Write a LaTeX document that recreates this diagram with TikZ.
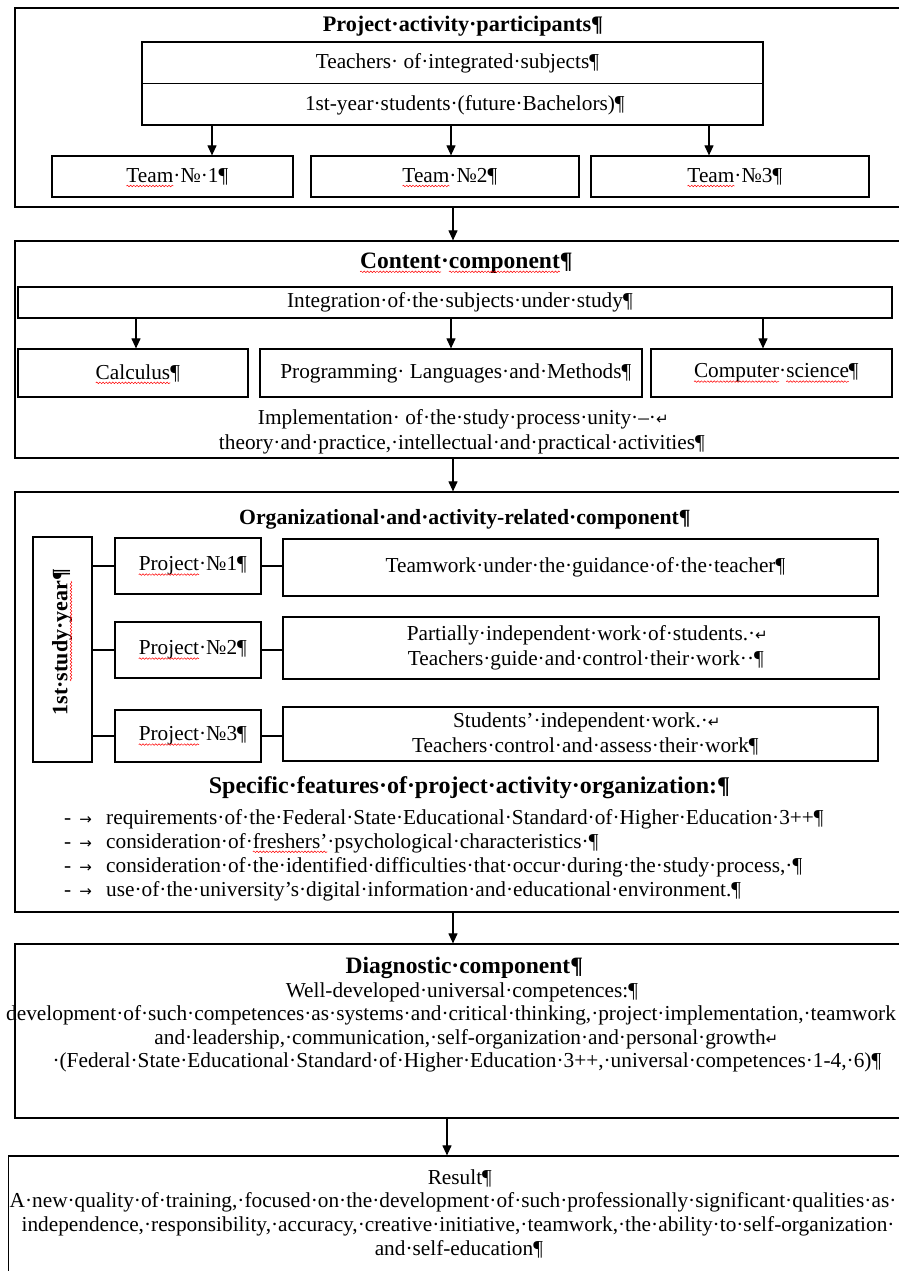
\documentclass[tikz,border=0pt]{standalone}
\usepackage{fontspec}
\setmainfont{Liberation Serif}
\newfontfamily\symf{DejaVu Sans}
\usetikzlibrary{arrows.meta,decorations.pathmorphing}
\newcommand\bodyf{\fontsize{21.3}{25}\selectfont}
\newcommand\pil{\rlap{¶}}
\newsavebox\splbox
\newlength\splw
\newcommand\spl[1]{\sbox\splbox{#1}\setlength\splw{\wd\splbox}\rlap{\usebox\splbox}\tikz[overlay,baseline=0pt]\draw[red,line width=0.5pt,decorate,decoration={snake,amplitude=0.8pt,segment length=3.2pt}] (0pt,-3.8pt) -- (\splw,-3.8pt);\hspace*{\splw}}
\newcommand\ret{\rlap{{\symf\fontsize{15}{15}\selectfont ↵}}}
\newcommand\tabarr{{\symf\fontsize{15}{15}\selectfont →}}
\begin{document}
\begin{tikzpicture}[x=1pt,y=-1pt,
  every node/.style={inner sep=0pt},
  frame/.style={draw, line width=1.2pt, minimum width=885.5pt},
  box/.style={draw, line width=1.2pt, align=center, font=\bodyf},
  t/.style={anchor=base, font=\bodyf},
  hd/.style={anchor=base},
  arr/.style={line width=1.1pt, -{Triangle[length=10pt,width=9pt]}},
  ln/.style={line width=1.1pt}]
\useasboundingbox (0,0) rectangle (899,1271);
\fill[white] (0,0) rectangle (899,1271);

% ---------- Box 1 ----------
\node[frame, minimum height=199pt] (b1) at (457.75,107.5) {};
\node[hd, font=\bfseries\fontsize{22.2}{24}\selectfont] (h1) at (457,32) {Project·activity·participants\pil};
\node[draw, line width=1.2pt, minimum width=621pt, minimum height=83pt] (inner) at (452.5,83.5) {};
\draw[ln] (inner.west) -- (inner.east);
\node[t] (teach) at (452.5,69) {Teachers· of·integrated·subjects\pil};
\node[t] (stud) at (460,111) {1st-year·students·(future·Bachelors)\pil};
\node[box, minimum width=241pt, minimum height=41pt] (t1) at (172.5,176.5) {\spl{Team}·№·1\pil};
\node[box, minimum width=268pt, minimum height=41pt] (t2) at (445,176.5) {\spl{Team}·№2\pil};
\node[box, minimum width=278pt, minimum height=41pt] (t3) at (730,176.5) {\spl{Team}·№3\pil};
\coordinate (xa1) at (212,0);
\coordinate (xa2) at (451,0);
\coordinate (xa3) at (709,0);
\draw[arr] (inner.south -| xa1) -- (t1.north -| xa1);
\draw[arr] (inner.south -| xa2) -- (t2.north -| xa2);
\draw[arr] (inner.south -| xa3) -- (t3.north -| xa3);

% ---------- Box 2 ----------
\node[frame, minimum height=217pt] (b2) at (457.75,349.5) {};
\node[hd, font=\bfseries\fontsize{23.5}{25}\selectfont] (h2) at (460,268) {\spl{Content}·\spl{component}\pil};
\node[box, minimum width=874pt, minimum height=31pt] (integ) at (455,302.5) {Integration·of·the·subjects·under·study\pil};
\node[box, minimum width=230pt, minimum height=48pt] (calc) at (133,373) {\spl{Calculus}\pil};
\node[box, minimum width=382pt, minimum height=48pt] (plm) at (451,373) {Programming· Languages·and·Methods\pil};
\node[box, minimum width=241pt, minimum height=48pt] (cs) at (771.5,373) {\spl{Computer}·\spl{science}\pil};
\coordinate (xb1) at (136,0);
\coordinate (xb2) at (451,0);
\coordinate (xb3) at (763,0);
\draw[arr] (integ.south -| xb1) -- (calc.north -| xb1);
\draw[arr] (integ.south -| xb2) -- (plm.north -| xb2);
\draw[arr] (integ.south -| xb3) -- (cs.north -| xb3);
\node[t] (impl1) at (457,424) {Implementation· of·the·study·process·unity·–·\ret};
\node[t] (impl2) at (457,449) {theory·and·practice,·intellectual·and·practical·activities\pil};

% ---------- Box 3 ----------
\node[frame, minimum height=420pt] (b3) at (457.75,702) {};
\node[hd, font=\bfseries\fontsize{21.7}{24}\selectfont] (h3) at (459,524) {Organizational·and·activity-related·component\pil};
\node[draw, line width=1.2pt, minimum width=59pt, minimum height=225pt] (year) at (62.5,649.5) {};
\node[rotate=90, font=\bfseries\fontsize{22}{24}\selectfont] (yeart) at (62,648) {1st·\spl{study·year}\pil};
\node[box, minimum width=146pt, minimum height=56pt] (p1) at (188,566) {\spl{Project}·№1\pil};
\node[box, minimum width=146pt, minimum height=56pt] (p2) at (188,650) {\spl{Project}·№2\pil};
\node[box, minimum width=146pt, minimum height=52pt] (p3) at (188,736) {\spl{Project}·№3\pil};
\node[box, minimum width=595pt, minimum height=57pt] (r1) at (580.5,567.5) {Teamwork·under·the·guidance·of·the·teacher\pil};
\node[box, minimum width=596pt, minimum height=62pt] (r2) at (581,648) {Partially·independent·work·of·students.·\ret\\Teachers·guide·and·control·their·work··\pil};
\node[box, minimum width=595pt, minimum height=54pt] (r3) at (580.5,734) {Students’·independent·work.·\ret\\Teachers·control·and·assess·their·work\pil};
\draw[ln] (year.east |- p1.west) -- (p1.west);
\draw[ln] (year.east |- p2.west) -- (p2.west);
\draw[ln] (year.east |- p3.west) -- (p3.west);
\draw[ln] (p1.east) -- (r1.west |- p1.east);
\draw[ln] (p2.east) -- (r2.west |- p2.east);
\draw[ln] (p3.east) -- (r3.west |- p3.east);
\node[hd, font=\bfseries\fontsize{24}{26}\selectfont] (spec) at (463,793) {Specific·features·of·project·activity·organization:\pil};
\node[t, anchor=base west] (f1) at (64,824) {\makebox[42pt][l]{-\hspace{8pt}\tabarr}requirements·of·the·Federal·State·Educational·Standard·of·Higher·Education·3++\pil};
\node[t, anchor=base west] (f2) at (64,848) {\makebox[42pt][l]{-\hspace{8pt}\tabarr}consideration·of·\spl{freshers’}·psychological·characteristics·\pil};
\node[t, anchor=base west] (f3) at (64,872) {\makebox[42pt][l]{-\hspace{8pt}\tabarr}consideration·of·the·identified·difficulties·that·occur·during·the·study·process,·\pil};
\node[t, anchor=base west] (f4) at (64,896) {\makebox[42pt][l]{-\hspace{8pt}\tabarr}use·of·the·university’s·digital·information·and·educational·environment.\pil};

% ---------- Box 4 ----------
\node[frame, minimum height=174pt] (b4) at (457.75,1031) {};
\node[hd, font=\bfseries\fontsize{23.5}{25}\selectfont] (h4) at (458,973) {Diagnostic·component\pil};
\node[t] (d1) at (457,997) {Well-developed·universal·competences:\pil};
\node[t] (d2) at (451,1020) {development·of·such·competences·as·systems·and·critical·thinking,·project·implementation,·teamwork};
\node[t] (d3) at (460,1044) {and·leadership,·communication,·self-organization·and·personal·growth\ret};
\node[t] (d4) at (462,1067) {·(Federal·State·Educational·Standard·of·Higher·Education·3++,·universal·competences·1-4,·6)\pil};

% ---------- Box 5 ----------
\node[draw, line width=1.2pt, minimum width=892pt, minimum height=124pt] (b5) at (454.5,1218) {};
\node[t] (res) at (455,1184) {Result\pil};
\node[t] (e1) at (453,1207) {A·new·quality·of·training,·focused·on·the·development·of·such·professionally·significant·qualities·as·};
\node[t] (e2) at (458,1231) {independence,·responsibility,·accuracy,·creative·initiative,·teamwork,·the·ability·to·self-organization·};
\node[t] (e3) at (454,1255) {and·self-education\pil};

% ---------- main arrows ----------
\coordinate (xm) at (453,0);
\coordinate (xn) at (447,0);
\draw[arr] (b1.south -| xm) -- (b2.north -| xm);
\draw[arr] (b2.south -| xm) -- (b3.north -| xm);
\draw[arr] (b3.south -| xm) -- (b4.north -| xm);
\draw[arr] (b4.south -| xn) -- (b5.north -| xn);
\end{tikzpicture}
\end{document}
